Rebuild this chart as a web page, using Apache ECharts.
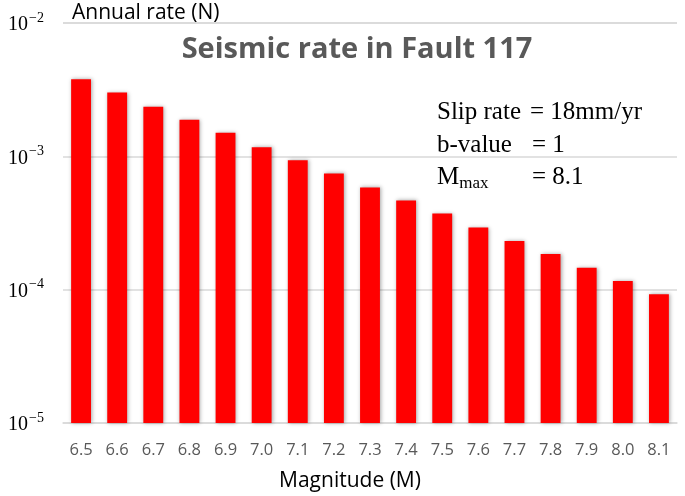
<!DOCTYPE html>
<html>
<head>
<meta charset="utf-8">
<script src="https://cdn.jsdelivr.net/npm/echarts@6/dist/echarts.min.js"></script>
<style>
  html, body { margin: 0; padding: 0; background: #fff; }
  #chart { width: 685px; height: 496px; }
</style>
</head>
<body>
<div id="chart"></div>
<script>
// magnitudes on the x axis
var magnitudes = ["6.5", "6.6", "6.7", "6.8", "6.9", "7.0", "7.1", "7.2", "7.3",
  "7.4", "7.5", "7.6", "7.7", "7.8", "7.9", "8.0", "8.1"];
// annual rate (log scale)
var annualRates = [3.79e-3, 3.01e-3, 2.35e-3, 1.88e-3, 1.50e-3, 1.17e-3, 9.33e-4,
  7.45e-4, 5.85e-4, 4.67e-4, 3.72e-4, 2.92e-4, 2.32e-4, 1.85e-4, 1.46e-4,
  1.16e-4, 9.22e-5];
var yMin = 1e-5;
var yMax = 1e-2;

var chartDom = document.getElementById("chart");
var myChart = echarts.init(chartDom);

var serif = "'Liberation Serif', 'DejaVu Serif', serif";
var sans = "'Open Sans', 'Liberation Sans', sans-serif";

// bars drawn from the bottom of the log axis up to the value
function renderBar(params, api) {
  var top = api.coord([api.value(0), api.value(1)]);
  var base = api.coord([api.value(0), yMin]);
  var w = api.size([1, 0])[0] * 0.55;
  return {
    type: "rect",
    shape: { x: top[0] - w / 2, y: top[1], width: w, height: base[1] - top[1] },
    style: { fill: "#ff0000", shadowBlur: 4, shadowOffsetX: 1, shadowColor: "rgba(0, 0, 0, 0.35)" }
  };
}

function note(text, left, top) {
  return {
    type: "text",
    left: left,
    top: top,
    z: 100,
    style: { text: text, fontFamily: serif, fontSize: 25, fill: "#000" }
  };
}

var option = {
  animation: false,
  title: {
    text: "Seismic rate in Fault 117",
    left: 352,
    top: 30,
    textAlign: "center",
    textStyle: { fontFamily: sans, fontSize: 29, fontWeight: "bold", color: "#595959" }
  },
  grid: { left: 63, right: 8, top: 23, bottom: 73, outerBoundsMode: "none" },
  xAxis: {
    type: "category",
    data: magnitudes,
    name: "Magnitude (M)",
    nameLocation: "middle",
    nameGap: 48,
    nameTextStyle: { fontFamily: sans, fontSize: 21, color: "#000", padding: [0, 40, 0, 0] },
    axisLine: { lineStyle: { color: "#d9d9d9", width: 1.5 } },
    axisTick: { show: false },
    axisLabel: { fontFamily: sans, fontSize: 16.5, color: "#595959", margin: 19 }
  },
  yAxis: {
    type: "log",
    logBase: 10,
    min: yMin,
    max: yMax,
    axisLine: { show: false },
    axisTick: { show: false },
    splitLine: { lineStyle: { color: "#d9d9d9", width: 1.5 } },
    axisLabel: {
      margin: 19,
      formatter: function (v) {
        var e = String(Math.round(Math.log10(v))).replace("-", "−");
        return "{b|10}{s|" + e + "}";
      },
      rich: {
        b: { fontFamily: serif, fontSize: 20, color: "#000", verticalAlign: "bottom" },
        s: { fontFamily: serif, fontSize: 14, color: "#000", verticalAlign: "top", padding: [0, 0, 10, 1] }
      }
    }
  },
  graphic: [
    {
      type: "text",
      left: 72,
      top: 3,
      z: 100,
      style: { text: "Annual rate (N)", fontFamily: sans, fontSize: 21, fill: "#000" }
    },
    note("Slip rate", 437, 100),
    note("= 18mm/yr", 530, 100),
    note("b-value", 437, 133),
    note("= 1", 532, 133),
    {
      type: "text",
      left: 437,
      top: 165,
      z: 100,
      style: {
        text: "{m|M}{s|max}",
        rich: {
          m: { fontFamily: serif, fontSize: 25, fill: "#000" },
          s: { fontFamily: serif, fontSize: 17, fill: "#000", padding: [13, 0, 0, 0] }
        }
      }
    },
    note("= 8.1", 532, 165)
  ],
  series: [
    {
      name: "Annual rate",
      type: "custom",
      renderItem: renderBar,
      encode: { x: 0, y: 1 },
      data: annualRates.map(function (v, i) {
        return [i, v];
      })
    }
  ]
};

option && myChart.setOption(option);
</script>
</body>
</html>
